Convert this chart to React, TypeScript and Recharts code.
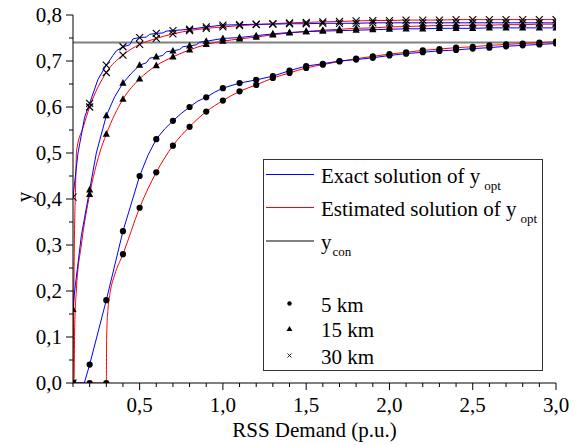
import React from 'react';
import { ComposedChart, Line, Scatter, XAxis, YAxis, ReferenceLine, Legend } from 'recharts';

// RSS demand (p.u.) at which markers are drawn
const demand = [0.1, 0.2, 0.3, 0.4, 0.5, 0.6, 0.7, 0.8, 0.9, 1.0, 1.1, 1.2, 1.3, 1.4, 1.5, 1.6, 1.7, 1.8, 1.9, 2.0, 2.1, 2.2, 2.3, 2.4, 2.5, 2.6, 2.7, 2.8, 2.9, 3.0];

// 5 km
const exact5 = [0, 0.04, 0.18, 0.33, 0.45, 0.53, 0.57, 0.6, 0.621, 0.641, 0.652, 0.659, 0.667, 0.679, 0.689, 0.694, 0.7, 0.703, 0.707, 0.712, 0.716, 0.719, 0.722, 0.724, 0.727, 0.729, 0.732, 0.734, 0.736, 0.738];
const est5 = [0, 0, 0, 0.28, 0.381, 0.458, 0.516, 0.557, 0.59, 0.614, 0.634, 0.648, 0.663, 0.674, 0.685, 0.692, 0.699, 0.705, 0.71, 0.715, 0.719, 0.723, 0.726, 0.729, 0.731, 0.734, 0.736, 0.738, 0.74, 0.742];
// 15 km
const exact15 = [0.16, 0.42, 0.581, 0.652, 0.691, 0.709, 0.722, 0.733, 0.743, 0.749, 0.751, 0.755, 0.759, 0.762, 0.764, 0.765, 0.766, 0.767, 0.768, 0.769, 0.77, 0.77, 0.771, 0.771, 0.771, 0.772, 0.772, 0.772, 0.772, 0.772];
const est15 = [0, 0.41, 0.541, 0.617, 0.661, 0.69, 0.709, 0.724, 0.736, 0.743, 0.748, 0.752, 0.757, 0.761, 0.764, 0.767, 0.769, 0.771, 0.772, 0.774, 0.775, 0.776, 0.777, 0.777, 0.778, 0.778, 0.779, 0.779, 0.78, 0.78];
// 30 km
const exact30 = [0.404, 0.608, 0.691, 0.731, 0.751, 0.76, 0.766, 0.769, 0.774, 0.778, 0.779, 0.78, 0.78, 0.781, 0.781, 0.782, 0.782, 0.782, 0.783, 0.783, 0.783, 0.783, 0.783, 0.783, 0.783, 0.783, 0.783, 0.783, 0.783, 0.783];
const est30 = [0, 0.6, 0.675, 0.713, 0.736, 0.749, 0.759, 0.766, 0.771, 0.774, 0.777, 0.779, 0.781, 0.783, 0.784, 0.785, 0.786, 0.787, 0.788, 0.788, 0.789, 0.789, 0.789, 0.79, 0.79, 0.79, 0.79, 0.79, 0.79, 0.79];

// extra curve points between markers (steep starts and small steps), [demand, y]
const exact5Start: [number, number][] = [[0.168, 0], [0.55, 0.495], [0.65, 0.552], [0.75, 0.586], [0.85, 0.613], [0.95, 0.632]];
const est5Rise: [number, number][] = [[0.302, 0.1], [0.31, 0.16], [0.32, 0.19], [0.35, 0.235]];
const exact15Start: [number, number][] = [[0.11, 0.2], [0.15, 0.32], [0.24, 0.5], [0.35, 0.622], [0.45, 0.673], [0.54, 0.696], [0.56, 0.706], [0.64, 0.712], [0.66, 0.72], [0.74, 0.725], [0.76, 0.731], [0.84, 0.735], [0.86, 0.741]];
const est15Rise: [number, number][] = [[0.106, 0], [0.11, 0.12], [0.12, 0.2], [0.15, 0.3], [0.26, 0.5]];
const exact30Start: [number, number][] = [[0.13, 0.5], [0.17, 0.578], [0.25, 0.66], [0.34, 0.712], [0.36, 0.722], [0.44, 0.735], [0.46, 0.748], [0.54, 0.752], [0.56, 0.758], [0.64, 0.761], [0.66, 0.765]];
const est30Rise: [number, number][] = [[0.104, 0.15], [0.108, 0.3], [0.115, 0.42], [0.122, 0.506], [0.162, 0.557]];

const yCon = 0.74;

const xTicks = [0.1, 0.2, 0.3, 0.4, 0.5, 0.6, 0.7, 0.8, 0.9, 1.0, 1.1, 1.2, 1.3, 1.4, 1.5, 1.6, 1.7, 1.8, 1.9, 2.0, 2.1, 2.2, 2.3, 2.4, 2.5, 2.6, 2.7, 2.8, 2.9, 3.0];
const yTicks = [0, 0.05, 0.1, 0.15, 0.2, 0.25, 0.3, 0.35, 0.4, 0.45, 0.5, 0.55, 0.6, 0.65, 0.7, 0.75, 0.8];

const FONT = "'Liberation Serif', 'Times New Roman', Tinos, 'DejaVu Serif', serif";
const txt = { fontFamily: FONT, fontSize: 21 } as React.CSSProperties;

const pts = (ys: number[]) => demand.map((x, i) => ({ x, y: ys[i] }));
const curve = (ys: number[], extra: [number, number][]) =>
  [...pts(ys), ...extra.map(([x, y]) => ({ x, y }))].sort((a, b) => a.x - b.x);

const fmt = (v: number) => v.toFixed(1).replace('.', ',');

const XTick = (props: any) => {
  const { x, y, payload } = props;
  const v = payload.value;
  const major = Math.abs(v * 2 - Math.round(v * 2)) < 1e-6;
  return (
    <g>
      <line x1={x} y1={y} x2={x} y2={y + (major ? 7 : 4)} stroke="#000" strokeWidth={1} />
      {major && (
        <text x={x} y={y + 22} textAnchor="middle" dominantBaseline="central" style={txt} fill="#000">
          {fmt(v)}
        </text>
      )}
    </g>
  );
};

const YTick = (props: any) => {
  const { x, y, payload } = props;
  const v = payload.value;
  const major = Math.abs(v * 10 - Math.round(v * 10)) < 1e-6;
  return (
    <g>
      <line x1={x} y1={y} x2={x - (major ? 7 : 4)} y2={y} stroke="#000" strokeWidth={1} />
      {major && (
        <text x={x - 11} y={y} textAnchor="end" dominantBaseline="central" style={txt} fill="#000">
          {fmt(v)}
        </text>
      )}
    </g>
  );
};

const Circle = (p: any) => <circle cx={p.cx} cy={p.cy} r={3.1} fill="#000" />;
const Tri = (p: any) => (
  <polygon points={`${p.cx},${p.cy - 4} ${p.cx - 3.6},${p.cy + 2.6} ${p.cx + 3.6},${p.cy + 2.6}`} fill="#000" />
);
const Cross = (p: any) => (
  <g stroke="#000" strokeWidth={1.1}>
    <line x1={p.cx - 3.5} y1={p.cy - 3.5} x2={p.cx + 3.5} y2={p.cy + 3.5} />
    <line x1={p.cx - 3.5} y1={p.cy + 3.5} x2={p.cx + 3.5} y2={p.cy - 3.5} />
  </g>
);

const LegendBox = () => (
  <svg width={280} height={212} style={{ display: 'block', background: '#fff' }}>
    <rect x={0.5} y={0.5} width={279} height={211} fill="#fff" stroke="#333" strokeWidth={1} />
    <line x1={3} x2={51} y1={15.5} y2={15.5} stroke="#0000ff" strokeWidth={1} />
    <text x={58} y={23.5} style={txt} fill="#000">
      Exact solution of y<tspan dx={4} dy={7} style={{ fontSize: 13 }}>opt</tspan>
    </text>
    <line x1={3} x2={51} y1={48.5} y2={48.5} stroke="#ff0000" strokeWidth={1} />
    <text x={58} y={56.5} style={txt} fill="#000">
      Estimated solution of y<tspan dx={4} dy={7} style={{ fontSize: 13 }}>opt</tspan>
    </text>
    <line x1={3} x2={51} y1={82} y2={82} stroke="#000" strokeWidth={1} />
    <text x={58} y={90} style={txt} fill="#000">
      y<tspan dx={1} dy={7} style={{ fontSize: 13 }}>con</tspan>
    </text>
    <circle cx={26.5} cy={144.5} r={2.2} fill="#000" />
    <text x={58} y={152.5} style={txt} fill="#000">5 km</text>
    <polygon points="26.5,167 23.5,172 29.5,172" fill="#000" />
    <text x={58} y={178} style={txt} fill="#000">15 km</text>
    <g stroke="#000" strokeWidth={0.9}>
      <line x1={24.5} y1={194.5} x2={28.5} y2={198.5} />
      <line x1={24.5} y1={198.5} x2={28.5} y2={194.5} />
    </g>
    <text x={58} y={204.5} style={txt} fill="#000">30 km</text>
  </svg>
);

export default function App() {
  return (
    <div style={{ position: 'absolute', left: 0, top: 0, width: 580, height: 445, background: '#fff', fontFamily: FONT }}>
      <ComposedChart width={580} height={445} margin={{ top: 15, right: 24, bottom: 0, left: 0 }}>
        <XAxis
          type="number"
          dataKey="x"
          domain={[0.1, 3]}
          allowDataOverflow
          ticks={xTicks}
          interval={0}
          tickSize={0}
          tickMargin={0}
          tickLine={false}
          tick={<XTick />}
          height={62}
          axisLine={{ stroke: '#000', strokeWidth: 1 }}
          label={(p: any) => {
            const vb = p.viewBox || { x: 73, y: 383, width: 483 };
            return (
              <text x={vb.x + vb.width / 2} y={vb.y + 47} textAnchor="middle" dominantBaseline="central" style={txt} fill="#000">
                RSS Demand (p.u.)
              </text>
            );
          }}
        />
        <YAxis
          type="number"
          dataKey="y"
          domain={[0, 0.8]}
          allowDataOverflow
          ticks={yTicks}
          interval={0}
          tickSize={0}
          tickMargin={0}
          tickLine={false}
          tick={<YTick />}
          width={73}
          axisLine={{ stroke: '#000', strokeWidth: 1 }}
          label={(p: any) => {
            const vb = p.viewBox || { x: 0, y: 15, height: 368 };
            const cx = vb.x + 24;
            const cy = vb.y + vb.height / 2 - 2;
            return (
              <text x={cx} y={cy} textAnchor="middle" dominantBaseline="central" transform={`rotate(-90 ${cx} ${cy})`} style={txt} fill="#000">
                y
              </text>
            );
          }}
        />
        <ReferenceLine y={yCon} stroke="#808080" strokeWidth={2} />
        <Line data={curve(est5, est5Rise)} dataKey="y" type="monotone" stroke="#ff0000" strokeWidth={1} dot={false} isAnimationActive={false} legendType="none" />
        <Line data={curve(est15, est15Rise)} dataKey="y" type="monotone" stroke="#ff0000" strokeWidth={1} dot={false} isAnimationActive={false} legendType="none" />
        <Line data={curve(est30, est30Rise)} dataKey="y" type="monotone" stroke="#ff0000" strokeWidth={1} dot={false} isAnimationActive={false} legendType="none" />
        <Line data={curve(exact5, exact5Start)} dataKey="y" type="linear" stroke="#0000ff" strokeWidth={1} dot={false} isAnimationActive={false} legendType="none" />
        <Line data={curve(exact15, exact15Start)} dataKey="y" type="linear" stroke="#0000ff" strokeWidth={1} dot={false} isAnimationActive={false} legendType="none" />
        <Line data={curve(exact30, exact30Start)} dataKey="y" type="linear" stroke="#0000ff" strokeWidth={1} dot={false} isAnimationActive={false} legendType="none" />
        <Scatter data={[...pts(exact5), ...pts(est5)]} dataKey="y" shape={Circle} isAnimationActive={false} legendType="none" />
        <Scatter data={[...pts(exact15), ...pts(est15)]} dataKey="y" shape={Tri} isAnimationActive={false} legendType="none" />
        <Scatter data={[...pts(exact30), ...pts(est30)]} dataKey="y" shape={Cross} isAnimationActive={false} legendType="none" />
        <Legend
          layout="vertical"
          align="center"
          verticalAlign="middle"
          content={() => <LegendBox />}
          wrapperStyle={{ left: 263, top: 159, width: 280, height: 212, right: 'auto', bottom: 'auto', margin: 0 }}
        />
      </ComposedChart>
    </div>
  );
}
